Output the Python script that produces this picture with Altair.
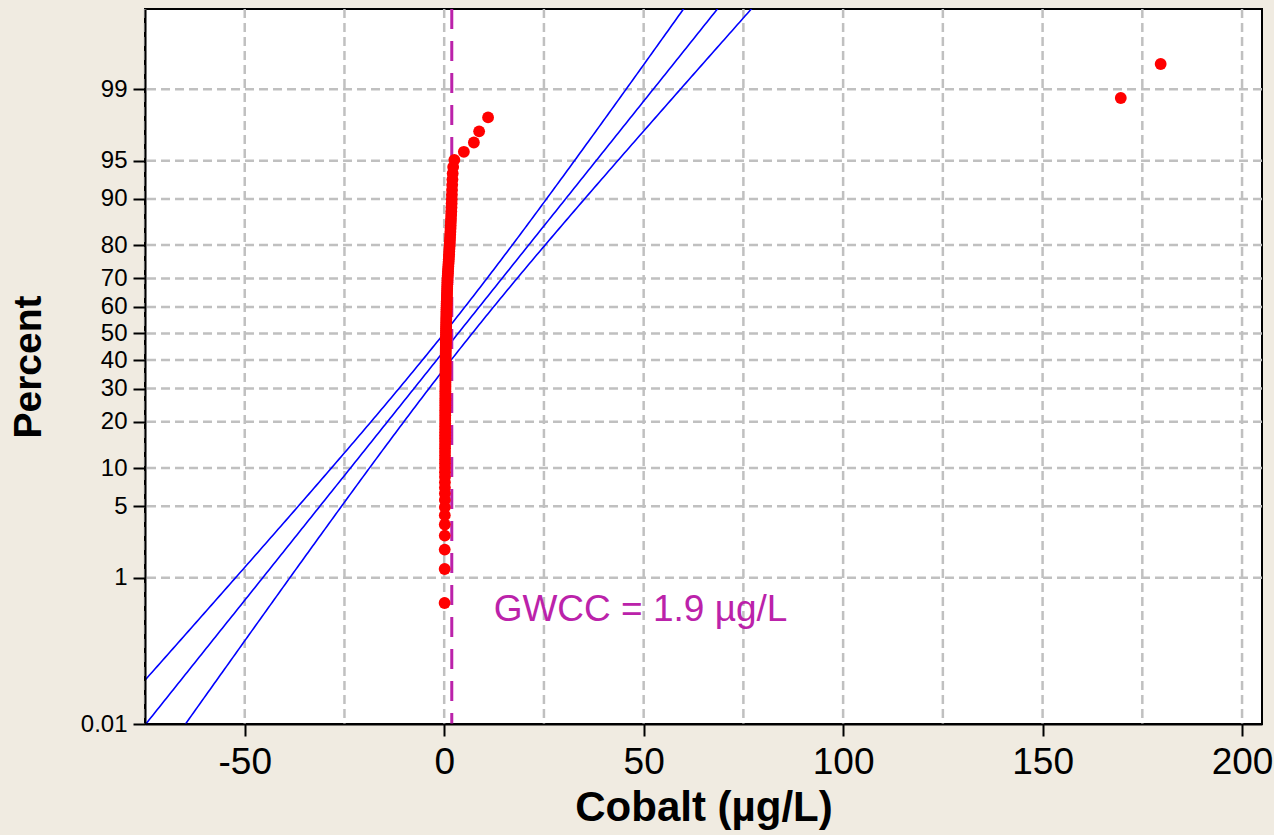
import statistics
import numpy as np
import pandas as pd
import altair as alt

# ---- data (sorted Cobalt results, ug/L) ----
cobalt = [
    0.10, 0.12, 0.13, 0.14, 0.15, 0.15, 0.16, 0.17, 0.17, 0.18, 0.18, 0.19, 0.19, 0.20,
    0.20, 0.20, 0.21, 0.21, 0.22, 0.22, 0.23, 0.23, 0.24, 0.24, 0.25, 0.25, 0.26,
    0.26, 0.26, 0.27, 0.27, 0.27, 0.28, 0.28, 0.28, 0.29, 0.29, 0.29, 0.30, 0.30, 0.30,
    0.31, 0.31, 0.31, 0.32, 0.32, 0.32, 0.33, 0.33, 0.34, 0.34, 0.34, 0.35, 0.35, 0.36,
    0.36, 0.37, 0.37, 0.38, 0.39, 0.39, 0.40, 0.41, 0.41, 0.42, 0.43, 0.44, 0.45,
    0.46, 0.47, 0.48, 0.49, 0.50, 0.51, 0.52, 0.53, 0.54, 0.55, 0.56, 0.57, 0.58, 0.60,
    0.61, 0.63, 0.64, 0.66, 0.68, 0.69, 0.71, 0.73, 0.75, 0.76, 0.78, 0.80, 0.82, 0.85,
    0.88, 0.92, 0.95, 0.99, 1.03, 1.07, 1.11, 1.15, 1.19, 1.23, 1.27, 1.31, 1.35,
    1.39, 1.43, 1.47, 1.51, 1.55, 1.59, 1.63, 1.67, 1.71, 1.75, 1.79, 1.83, 1.87, 1.90,
    1.93, 1.97, 2.01, 2.06, 2.13, 2.25, 2.55,
    4.93, 7.44, 8.76, 11.0, 169.6, 179.6,
]
y_tick_percents = [0.01, 1, 5, 10, 20, 30, 40, 50, 60, 70, 80, 90, 95, 99]
y_tick_labels = ["0.01", "1", "5", "10", "20", "30", "40", "50", "60", "70", "80", "90", "95", "99"]
x_tick_values = [-50, 0, 50, 100, 150, 200]
x_grid_values = [-75, -50, -25, 0, 25, 50, 75, 100, 125, 150, 175, 200]
x_domain = [-75, 205]
y_domain_percent = [0.01, 99.9]
gwcc_value = 1.9
gwcc_label = "GWCC = 1.9 µg/L"

# ---- probability-plot transformation (normal scores, Minitab median ranks) ----
nd = statistics.NormalDist()
n = len(cobalt)
xs = sorted(cobalt)
zs = [nd.inv_cdf((i + 1 - 0.3) / (n + 0.4)) for i in range(n)]
pts = pd.DataFrame({"x": xs, "z": zs})

mu = float(np.mean(xs))
sd = float(np.std(xs, ddof=1))
zgrid = np.linspace(-4.5, 3.8, 300)
half = 1.96 * sd * np.sqrt((1 + zgrid ** 2 / 2) / n)
fit = mu + zgrid * sd
lines = pd.concat([
    pd.DataFrame({"x": fit - half, "z": zgrid, "line": "lower"}),
    pd.DataFrame({"x": fit, "z": zgrid, "line": "fit"}),
    pd.DataFrame({"x": fit + half, "z": zgrid, "line": "upper"}),
])

y_tick_z = [nd.inv_cdf(p / 100) for p in y_tick_percents]
y_dom = [nd.inv_cdf(p / 100) for p in y_domain_percent]
label_expr = " : ".join(
    f"abs(datum.value - ({z:.6f})) < 0.001 ? '{lab}'" for z, lab in zip(y_tick_z, y_tick_labels)
) + " : ''"

FONT = "Liberation Sans"
xscale = alt.Scale(domain=x_domain, nice=False, zero=False)
yscale = alt.Scale(domain=y_dom, nice=False, zero=False)

x_axis = alt.Axis(
    values=x_tick_values, grid=False, labelFont=FONT, labelFontSize=37,
    labelExpr="datum.value < 0 ? '-' + abs(datum.value) : '' + datum.value",
    labelColor="black", labelPadding=8, tickSize=12, tickWidth=2, tickColor="black",
    domainColor="black", domainWidth=2, labelFlush=False, labelOverlap=False,
    titleFont=FONT, titleFontSize=42, titleFontWeight="bold", titleColor="black",
    titlePadding=7, zindex=1,
)
y_axis = alt.Axis(
    values=y_tick_z, labelExpr=label_expr, grid=False, labelFont=FONT, labelFontSize=24,
    labelColor="black", labelPadding=6, tickSize=12, tickWidth=2, tickColor="black",
    domainColor="black", domainWidth=2, labelFlush=False, labelOverlap=False,
    titleFont=FONT, titleFontSize=39, titleFontWeight="bold", titleColor="black",
    titlePadding=32, zindex=1,
)
X = lambda f: alt.X(f, scale=xscale, axis=x_axis, title="Cobalt (µg/L)")
Y = lambda f: alt.Y(f, scale=yscale, axis=y_axis, title="Percent")

grid_style = dict(color="#C0C0C0", strokeWidth=2.5, strokeDash=[9, 5])

xgrid = alt.Chart(pd.DataFrame({"x": x_grid_values})).mark_rule(**grid_style).encode(
    x=X("x:Q")
)
ygrid = alt.Chart(pd.DataFrame({"z": y_tick_z[1:]})).mark_rule(**grid_style).encode(
    y=Y("z:Q")
)

line_layer = alt.Chart(lines).mark_line(color="#0000FF", strokeWidth=1.6, clip=True).encode(
    x=X("x:Q"), y=Y("z:Q"), detail="line:N", order="z:Q",
)

gwcc = alt.Chart(pd.DataFrame({"x": [gwcc_value]})).mark_rule(
    color="#BB22AA", strokeWidth=3, strokeDash=[20, 12]
).encode(x=X("x:Q"))

points = alt.Chart(pts).mark_circle(size=140, color="#FF0000", opacity=1).encode(
    x=X("x:Q"), y=Y("z:Q"),
)

annot = alt.Chart(pd.DataFrame({"x": [12.4], "z": [-2.738], "t": [gwcc_label]})).mark_text(
    align="left", baseline="alphabetic", font=FONT, fontSize=37, color="#BB22AA"
).encode(x=X("x:Q"), y=Y("z:Q"), text="t:N")

chart = alt.layer(xgrid, ygrid, line_layer, gwcc, points, annot).properties(
    width=1117, height=715,
    autosize=alt.AutoSizeParams(type="none"),
    padding={"left": 145, "top": 9, "right": 12, "bottom": 111},
).configure(background="#F0EBE1").configure_view(
    fill="white", stroke="black", strokeWidth=2
)

chart.save("out.html", embed_options={"renderer": "svg", "actions": False})
